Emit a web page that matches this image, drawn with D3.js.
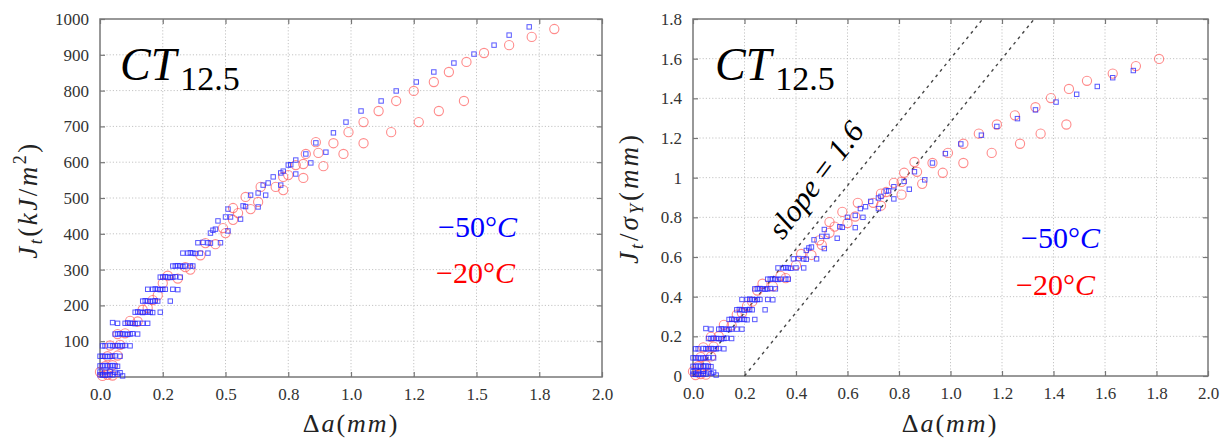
<!DOCTYPE html>
<html><head><meta charset="utf-8">
<script src="https://cdn.jsdelivr.net/npm/d3@7"></script>
<style>body{margin:0;background:#fff}svg{display:block}</style>
</head><body>
<svg id="c" width="1227" height="439"></svg>
<script>
// ---------- DATA ----------
// Δa (mm) vs J_t (kJ/m^2), -50°C (blue squares)
const blue50 = [
 [0.00,6],[0.01,6],[0.02,5],[0.03,6],[0.04,7],[0.05,6],[0.07,8],[0.09,3],
 [0.00,14],[0.02,14],[0.04,15],[0.06,13],[0.08,12],
 [0.00,31],[0.01,31],[0.02,32],[0.03,31],[0.04,31],[0.05,32],[0.06,31],[0.07,30],
 [0.00,58],[0.01,58],[0.02,58],[0.03,57],[0.04,58],[0.05,58],[0.06,59],[0.08,58],
 [0.01,87],[0.02,87],[0.04,88],[0.05,87],[0.06,87],[0.07,88],[0.08,87],[0.09,87],[0.10,88],[0.12,87],
 [0.06,120],[0.07,120],[0.08,121],[0.09,120],[0.10,120],[0.11,119],[0.12,120],[0.13,121],[0.15,120],
 [0.05,152],[0.07,150],[0.10,150],[0.11,151],[0.12,150],[0.13,150],[0.14,149],[0.15,150],[0.17,150],[0.19,150],
 [0.14,181],[0.15,182],[0.16,181],[0.17,180],[0.18,181],[0.19,182],[0.20,181],[0.21,180],[0.24,181],
 [0.17,212],[0.18,213],[0.19,212],[0.20,211],[0.21,212],[0.22,213],[0.23,212],[0.28,212],
 [0.19,245],[0.21,245],[0.22,246],[0.23,245],[0.24,244],[0.25,245],[0.26,245],[0.29,245],[0.31,244],
 [0.24,279],[0.25,279],[0.26,280],[0.27,279],[0.28,278],[0.29,279],[0.30,280],[0.32,279],
 [0.29,310],[0.30,310],[0.31,311],[0.32,310],[0.33,309],[0.34,310],[0.36,310],[0.37,310],
 [0.33,346],[0.35,346],[0.36,347],[0.37,346],[0.38,345],[0.40,346],[0.43,346],
 [0.39,375],[0.41,376],[0.43,375],[0.44,374],[0.48,375],
 [0.44,402],[0.45,410],[0.46,413],[0.51,408],[0.47,436],[0.50,447],[0.52,447],[0.56,441],
 [0.51,469],[0.57,478],[0.58,476],[0.60,508],[0.63,514],[0.63,475],[0.66,508],[0.65,536],
 [0.67,542],[0.69,559],[0.72,570],[0.73,575],[0.72,536],[0.75,592],[0.76,593],[0.78,606],
 [0.78,567],[0.82,623],[0.84,598],[0.86,654],[0.90,628],[0.93,682],[0.98,712],[1.04,743],
 [1.12,771],[1.18,799],[1.26,824],[1.33,852],[1.41,877],[1.49,902],[1.57,927],[1.63,955],[1.71,978]
];
// Δa (mm) vs J_t (kJ/m^2), -20°C (red circles)
const red20 = [
 [0.01,3],[0.03,6],[0.05,4],[0.00,14],[0.02,30],[0.05,33],[0.03,58],[0.07,60],
 [0.04,88],[0.08,90],[0.07,120],[0.10,122],[0.12,157],[0.15,155],[0.17,188],[0.19,193],
 [0.21,215],[0.23,228],[0.25,262],[0.27,283],[0.31,275],[0.34,307],[0.36,300],[0.40,340],
 [0.42,374],[0.46,371],[0.49,416],[0.50,402],[0.53,439],[0.53,472],[0.55,458],[0.60,469],
 [0.58,503],[0.63,489],[0.64,531],[0.70,531],[0.73,522],[0.73,559],[0.75,564],[0.78,592],
 [0.81,595],[0.81,556],[0.82,623],[0.86,656],[0.87,626],[0.89,589],[0.93,653],[0.97,623],
 [0.99,684],[1.05,712],[1.05,653],[1.11,743],[1.16,684],[1.18,771],[1.25,799],[1.27,712],
 [1.33,824],[1.35,743],[1.39,852],[1.45,771],[1.46,880],[1.53,905],[1.63,927],[1.72,950],[1.81,972]
];
// yield stress (MPa) used for the normalised panel J_t/σ_Y
const sigmaY50 = 635;
const sigmaY20 = 608;
// slope guide lines: [Δa start, slope]
const slopeLines = [[0.0,1.6],[0.2,1.6]];

const xTicks = [0,0.25,0.5,0.75,1,1.25,1.5,1.75,2];
const xTickLabelsLeft = ["0.0","0.2","0.5","0.8","1.0","1.2","1.5","1.8","2.0"];
const yTicksLeft = [100,200,300,400,500,600,700,800,900,1000];
const yTickLabelsLeft = ["100","200","300","400","500","600","700","800","900","1000"];
const xTicksRight = [0,0.2,0.4,0.6,0.8,1,1.2,1.4,1.6,1.8,2];
const xTickLabelsRight = ["0.0","0.2","0.4","0.6","0.8","1.0","1.2","1.4","1.6","1.8","2.0"];
const yTicksRight = [0,0.2,0.4,0.6,0.8,1,1.2,1.4,1.6,1.8];
const yTickLabelsRight = ["0","0.2","0.4","0.6","0.8","1","1.2","1.4","1.6","1.8"];

// ---------- DRAW ----------
const svg = d3.select("#c");
svg.append("rect").attr("width",1227).attr("height",439).attr("fill","#fff");
const serif = "'Liberation Serif','DejaVu Serif',serif";

function panel(p){
  const x = d3.scaleLinear().domain([0,2]).range([p.x0,p.x1]);
  const y = d3.scaleLinear().domain([0,p.yMax]).range([p.y0,p.y1]);
  const g = svg.append("g");
  g.append("g").selectAll("line").data(p.xTicks.filter(d=>d>0&&d<2)).join("line")
    .attr("x1",d=>x(d)).attr("x2",d=>x(d)).attr("y1",p.y0).attr("y2",p.y1)
    .attr("stroke","#c4c4c4").attr("stroke-width",1).attr("stroke-dasharray","1.2,2");
  g.append("g").selectAll("line").data(p.yTicks.filter(d=>d>0&&d<p.yMax)).join("line")
    .attr("y1",d=>y(d)).attr("y2",d=>y(d)).attr("x1",p.x0).attr("x2",p.x1)
    .attr("stroke","#c4c4c4").attr("stroke-width",1).attr("stroke-dasharray","1.2,2");
  const style = a => {
    a.select(".domain").remove();
    a.selectAll(".tick line").attr("stroke","#777").attr("stroke-width",1.2);
    a.selectAll("text").attr("font-family",serif).attr("font-size",17).attr("fill","#333");
  };
  g.append("g").attr("transform",`translate(0,${p.y0})`)
    .call(d3.axisBottom(x).tickValues(p.xTicks).tickFormat((d,i)=>p.xLabels[i]).tickSizeInner(-5).tickSizeOuter(0).tickPadding(11)).call(style);
  g.append("g").attr("transform",`translate(0,${p.y1})`)
    .call(d3.axisTop(x).tickValues(p.xTicks).tickFormat("").tickSizeInner(-5).tickSizeOuter(0)).call(style);
  g.append("g").attr("transform",`translate(${p.x0},0)`)
    .call(d3.axisLeft(y).tickValues(p.yTicks).tickFormat((d,i)=>p.yLabels[i]).tickSizeInner(-5).tickSizeOuter(0).tickPadding(11)).call(style);
  g.append("g").attr("transform",`translate(${p.x1},0)`)
    .call(d3.axisRight(y).tickValues(p.yTicks).tickFormat("").tickSizeInner(-5).tickSizeOuter(0)).call(style);
  g.append("rect").attr("x",p.x0).attr("y",p.y1).attr("width",p.x1-p.x0).attr("height",p.y0-p.y1)
    .attr("fill","none").attr("stroke","#777").attr("stroke-width",1.5);
  return {x,y,g};
}

function drawPoints(P, red, blue, sr, sb){
  P.g.append("g").selectAll("circle").data(red).join("circle")
    .attr("cx",d=>P.x(d[0])).attr("cy",d=>P.y(d[1]/sr)).attr("r",4.6)
    .attr("fill","none").attr("stroke","#ff5a5a").attr("stroke-opacity",0.7).attr("stroke-width",1.1);
  P.g.append("g").selectAll("rect").data(blue).join("rect")
    .attr("x",d=>P.x(d[0])-2.2).attr("y",d=>P.y(d[1]/sb)-2.2).attr("width",4.4).attr("height",4.4)
    .attr("fill","none").attr("stroke","#2020ff").attr("stroke-opacity",0.75).attr("stroke-width",1);
}

function ctLabel(x,y){
  const t = svg.append("text").attr("x",x).attr("y",y).attr("font-family",serif).attr("fill","#000");
  t.append("tspan").attr("font-style","italic").attr("font-size",46).text("CT");
  t.append("tspan").attr("font-size",34).attr("dy",10).attr("dx",4).text("12.5");
}
function tempLabel(xEnd,y,val,color){
  const t = svg.append("text").attr("x",xEnd).attr("y",y).attr("text-anchor","end")
    .attr("font-family",serif).attr("font-size",30).attr("fill",color);
  t.append("tspan").text(val+"°");
  t.append("tspan").attr("font-style","italic").text("C");
}
function xTitle(cx){
  const t = svg.append("text").attr("x",cx).attr("y",432).attr("text-anchor","middle")
    .attr("font-family",serif).attr("font-size",26).attr("letter-spacing",2).attr("fill","#222");
  t.append("tspan").text("Δ");
  t.append("tspan").attr("font-style","italic").text("a");
  t.append("tspan").text("(");
  t.append("tspan").attr("font-style","italic").text("mm");
  t.append("tspan").text(")");
}

// Left panel
const L = panel({x0:100,x1:602,y0:377,y1:19,yMax:1000,xTicks:xTicks,xLabels:xTickLabelsLeft,yTicks:yTicksLeft,yLabels:yTickLabelsLeft});
drawPoints(L, red20, blue50, 1, 1);
ctLabel(120,80);
tempLabel(517,237,"−50","#0000ff");
tempLabel(515,283,"−20","#ff0000");
xTitle(351);
{
  const t = svg.append("text").attr("transform","translate(37,200) rotate(-90)").attr("text-anchor","middle")
    .attr("font-family",serif).attr("font-size",27).attr("letter-spacing",2.5).attr("fill","#222");
  t.append("tspan").attr("font-style","italic").text("J");
  t.append("tspan").attr("font-style","italic").attr("font-size",18).attr("dy",5).text("t");
  t.append("tspan").attr("dy",-5).text("(");
  t.append("tspan").attr("font-style","italic").text("kJ");
  t.append("tspan").text("/");
  t.append("tspan").attr("font-style","italic").text("m");
  t.append("tspan").attr("font-size",18).attr("dy",-11).text("2");
  t.append("tspan").attr("dy",11).text(")");
}

// Right panel
const R = panel({x0:693,x1:1208,y0:376,y1:19,yMax:1.8,xTicks:xTicksRight,xLabels:xTickLabelsRight,yTicks:yTicksRight,yLabels:yTickLabelsRight});
slopeLines.forEach(([a0,s])=>{
  const a1 = a0 + 1.8/s;
  R.g.append("line").attr("x1",R.x(a0)).attr("y1",R.y(0)).attr("x2",R.x(a1)).attr("y2",R.y(1.8))
    .attr("stroke","#444").attr("stroke-width",1.4).attr("stroke-dasharray","3,4");
});
drawPoints(R, red20, blue50, sigmaY20, sigmaY50);
ctLabel(715,80);
tempLabel(1100,248,"−50","#0000ff");
tempLabel(1095,295,"−20","#ff0000");
xTitle(950);
{
  const t = svg.append("text").attr("transform","translate(824,186) rotate(-53)").attr("text-anchor","middle")
    .attr("font-family",serif).attr("font-size",31).attr("fill","#000");
  t.append("tspan").attr("font-style","italic").text("slope");
  t.append("tspan").text(" = ");
  t.append("tspan").attr("font-style","italic").text("1.6");
}
{
  const t = svg.append("text").attr("transform","translate(638,198) rotate(-90)").attr("text-anchor","middle")
    .attr("font-family",serif).attr("font-size",27).attr("letter-spacing",3).attr("fill","#222");
  t.append("tspan").attr("font-style","italic").text("J");
  t.append("tspan").attr("font-style","italic").attr("font-size",18).attr("dy",5).text("t");
  t.append("tspan").attr("dy",-5).text("/");
  t.append("tspan").attr("font-style","italic").text("σ");
  t.append("tspan").attr("font-style","italic").attr("font-size",18).attr("dy",5).text("Y");
  t.append("tspan").attr("dy",-5).text("(");
  t.append("tspan").attr("font-style","italic").text("mm");
  t.append("tspan").text(")");
}
</script>
</body></html>
